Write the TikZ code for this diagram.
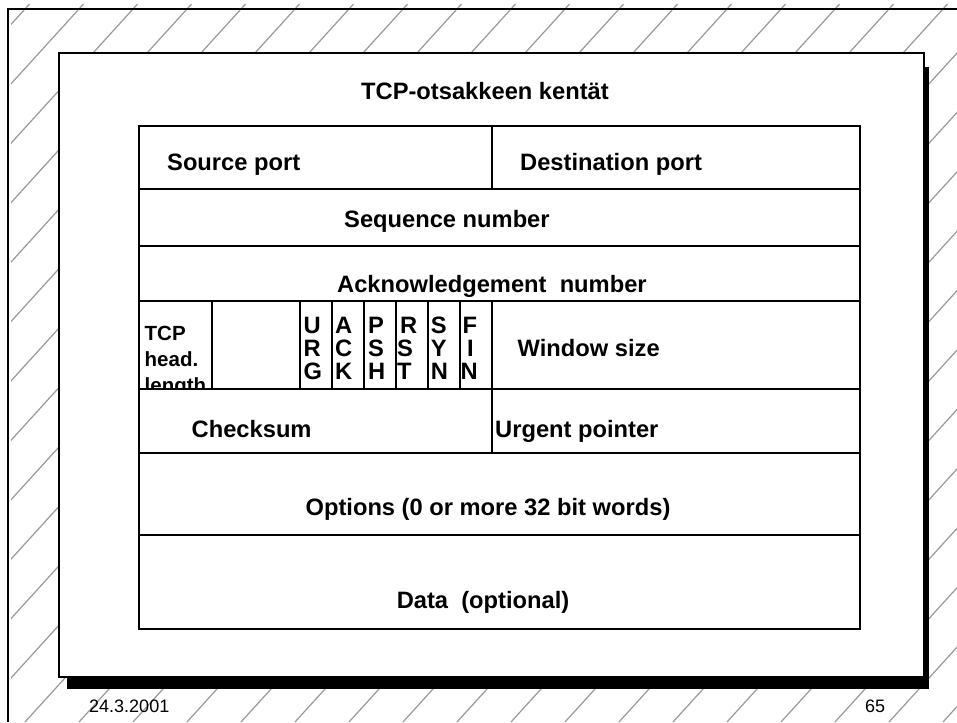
\documentclass[tikz,border=0pt]{standalone}
\usepackage{fontspec}
\setmainfont{Liberation Sans}
\begin{document}
\begin{tikzpicture}[x=1pt,y=-1pt,
  hatch/.style={draw=black!40, line width=1.2pt},
  frame/.style={line width=1.8pt},
  gridline/.style={line width=1.9pt},
  lbl/.style={font=\fontsize{23.7}{23.7}\selectfont\bfseries, inner sep=0pt, anchor=base west},
  tcplbl/.style={font=\fontsize{20.5}{20.5}\selectfont\bfseries, inner sep=0pt, anchor=base west},
  foot/.style={font=\fontsize{18}{18}\selectfont, inner sep=0pt, anchor=base west}
]
\useasboundingbox (0,0) rectangle (957,722);
\fill[white] (0,0) rectangle (957,722);
% background hatching
\begin{scope}
  \clip (11,5) rectangle (957,722);
  \foreach \k in {-1,...,29}
    \draw[hatch] ({79+54*\k-648},722) -- ({79+54*\k+8.2},0);
\end{scope}
% outer frame
\draw[frame] (957,9) -- (8,9) -- (8,722);
% slide with shadow
\fill[black] (67,67) rectangle (929,689);
\draw[frame, fill=white] (59,53) rectangle (924,677);
% table
\draw[gridline] (139,126) rectangle (860,629);
\foreach \y in {189,246,301,389,453,535}
  \draw[gridline] (139,\y) -- (860,\y);
\draw[gridline] (492,126) -- (492,189);
\foreach \x in {211.7,300,332,364,396,428,460,492}
  \draw[gridline] (\x,301) -- (\x,389);
\draw[gridline] (492,389) -- (492,453);
% texts
\node[lbl, anchor=base] (title) at (485,100) {TCP-otsakkeen kentät};
\node[lbl] (src) at (167,171) {Source port};
\node[lbl] (dst) at (520,171) {Destination port};
\node[lbl] (seq) at (344,227) {Sequence number};
\node[lbl] (ack) at (337,292) {Acknowledgement\ \ number};
\begin{scope}
  \clip (139,301) rectangle (211.7,388.5);
  \node[tcplbl] (tcp1) at (144.5,340) {TCP};
  \node[tcplbl] (tcp2) at (144.5,366) {head.};
  \node[tcplbl] (tcp3) at (144.5,392) {length};
\end{scope}
\foreach \l/\x/\y [count=\i] in {
  U/303.5/333, R/303.5/356, G/303.5/379.5,
  A/335/333, C/335/356, K/335/379.5,
  P/367.8/333, S/367.8/356, H/367.8/379.5,
  R/400/333, S/396.8/356, T/396.8/379.5,
  S/430.7/333, Y/430.7/356, N/430.7/379.5,
  F/462.3/333, I/466.8/356, N/460.4/379.5}
  \node[lbl] (flag\i) at (\x,\y) {\l};
\node[lbl] (win) at (517.5,356) {Window size};
\node[lbl] (chk) at (191.5,437) {Checksum};
\node[lbl] (urg) at (495,437) {Urgent pointer};
\node[lbl, anchor=base] (opt) at (488,515) {Options (0 or more 32 bit words)};
\node[lbl, anchor=base] (data) at (483,608) {Data\ \ (optional)};
\node[foot] (date) at (89,712) {24.3.2001};
\node[foot] (page) at (865,712) {65};
\end{tikzpicture}
\end{document}
